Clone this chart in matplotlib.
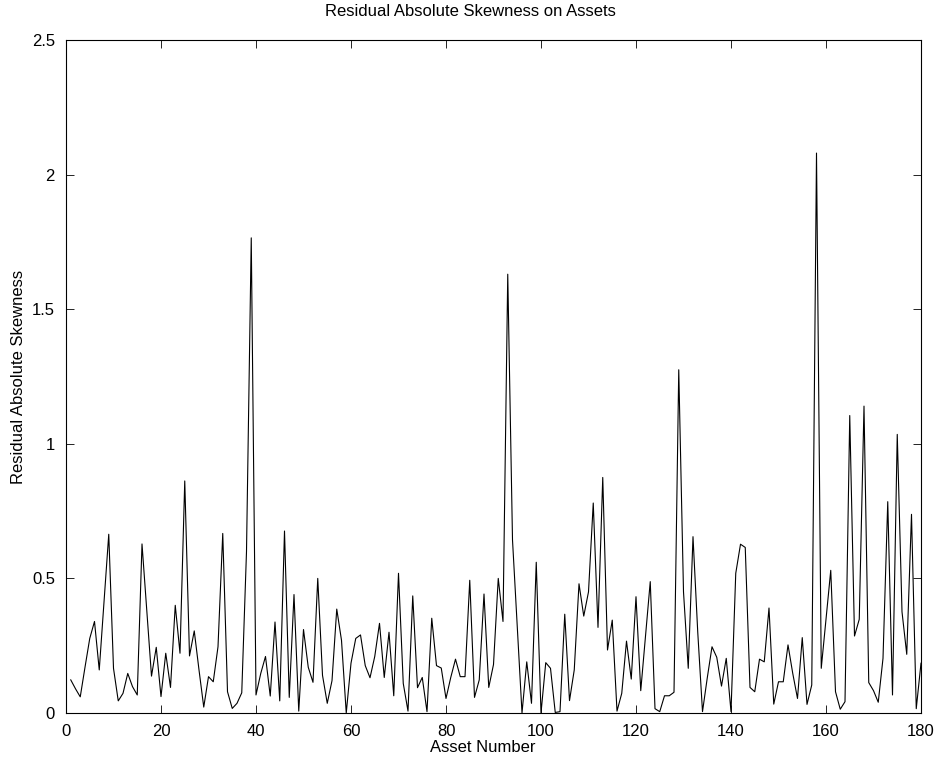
import matplotlib
matplotlib.use("Agg")
import matplotlib.pyplot as plt
import numpy as np

# asset numbers 1..180
assets = np.arange(1, 181)

# residual absolute skewness (in blocks of 10 assets)
skew_001_010 = [0.123, 0.09, 0.06, 0.17, 0.277, 0.34, 0.16, 0.41, 0.664, 0.166]
skew_011_020 = [0.045, 0.073, 0.147, 0.098, 0.067, 0.628, 0.38, 0.137, 0.244, 0.061]
skew_021_030 = [0.222, 0.095, 0.40, 0.222, 0.862, 0.212, 0.305, 0.16, 0.022, 0.135]
skew_031_040 = [0.116, 0.246, 0.667, 0.079, 0.017, 0.036, 0.075, 0.6, 1.765, 0.067]
skew_041_050 = [0.147, 0.21, 0.063, 0.338, 0.045, 0.676, 0.058, 0.44, 0.007, 0.31]
skew_051_060 = [0.17, 0.114, 0.50, 0.14, 0.036, 0.12, 0.386, 0.27, 0.0, 0.185]
skew_061_070 = [0.277, 0.29, 0.176, 0.131, 0.21, 0.333, 0.132, 0.30, 0.064, 0.519]
skew_071_080 = [0.11, 0.007, 0.435, 0.094, 0.132, 0.005, 0.352, 0.176, 0.167, 0.054]
skew_081_090 = [0.132, 0.20, 0.135, 0.135, 0.493, 0.058, 0.123, 0.442, 0.095, 0.18]
skew_091_100 = [0.50, 0.34, 1.63, 0.643, 0.32, 0.0, 0.19, 0.036, 0.56, 0.0]
skew_101_110 = [0.187, 0.166, 0.002, 0.005, 0.367, 0.046, 0.16, 0.48, 0.36, 0.45]
skew_111_120 = [0.78, 0.318, 0.875, 0.234, 0.345, 0.007, 0.073, 0.267, 0.126, 0.432]
skew_121_130 = [0.083, 0.284, 0.488, 0.016, 0.005, 0.064, 0.064, 0.077, 1.275, 0.45]
skew_131_140 = [0.166, 0.655, 0.30, 0.005, 0.13, 0.246, 0.207, 0.10, 0.203, 0.005]
skew_141_150 = [0.519, 0.627, 0.615, 0.095, 0.079, 0.20, 0.19, 0.39, 0.033, 0.116]
skew_151_160 = [0.116, 0.253, 0.147, 0.054, 0.28, 0.032, 0.104, 2.08, 0.166, 0.35]
skew_161_170 = [0.53, 0.079, 0.014, 0.042, 1.105, 0.286, 0.348, 1.14, 0.113, 0.083]
skew_171_180 = [0.04, 0.203, 0.785, 0.067, 1.035, 0.376, 0.218, 0.738, 0.016, 0.185]

skewness = np.concatenate([
    skew_001_010, skew_011_020, skew_021_030, skew_031_040, skew_041_050,
    skew_051_060, skew_061_070, skew_071_080, skew_081_090, skew_091_100,
    skew_101_110, skew_111_120, skew_121_130, skew_131_140, skew_141_150,
    skew_151_160, skew_161_170, skew_171_180,
])

x_ticks = list(range(0, 181, 20))
y_ticks = [0, 0.5, 1, 1.5, 2, 2.5]
y_tick_labels = ["0", "0.5", "1", "1.5", "2", "2.5"]

plt.rcParams["font.family"] = ["Liberation Sans", "DejaVu Sans"]

fig = plt.figure(figsize=(9.39, 7.66), dpi=100)
ax = fig.add_axes([66 / 939, 53 / 766, 855 / 939, 673 / 766])

ax.plot(assets, skewness, color="black", linewidth=0.8)

ax.set_xlim(0, 180)
ax.set_ylim(0, 2.5)
ax.set_xticks(x_ticks)
ax.set_yticks(y_ticks)
ax.set_yticklabels(y_tick_labels)
ax.tick_params(direction="in", length=6, width=0.6, labelsize=12,
               top=True, right=True)
ax.tick_params(axis="x", pad=8)
ax.tick_params(axis="y", pad=8)
for s in ax.spines.values():
    s.set_linewidth(0.8)

# MATLAB-style placement: title and xlabel sit slightly left of centre
ax.set_title("Residual Absolute Skewness on Assets", fontsize=12, pad=17, x=0.4725)
ax.set_xlabel("Asset Number", fontsize=12, labelpad=1, x=0.488)
ax.set_ylabel("Residual Absolute Skewness", fontsize=12, labelpad=4)

fig.savefig("out.png", dpi=100)
